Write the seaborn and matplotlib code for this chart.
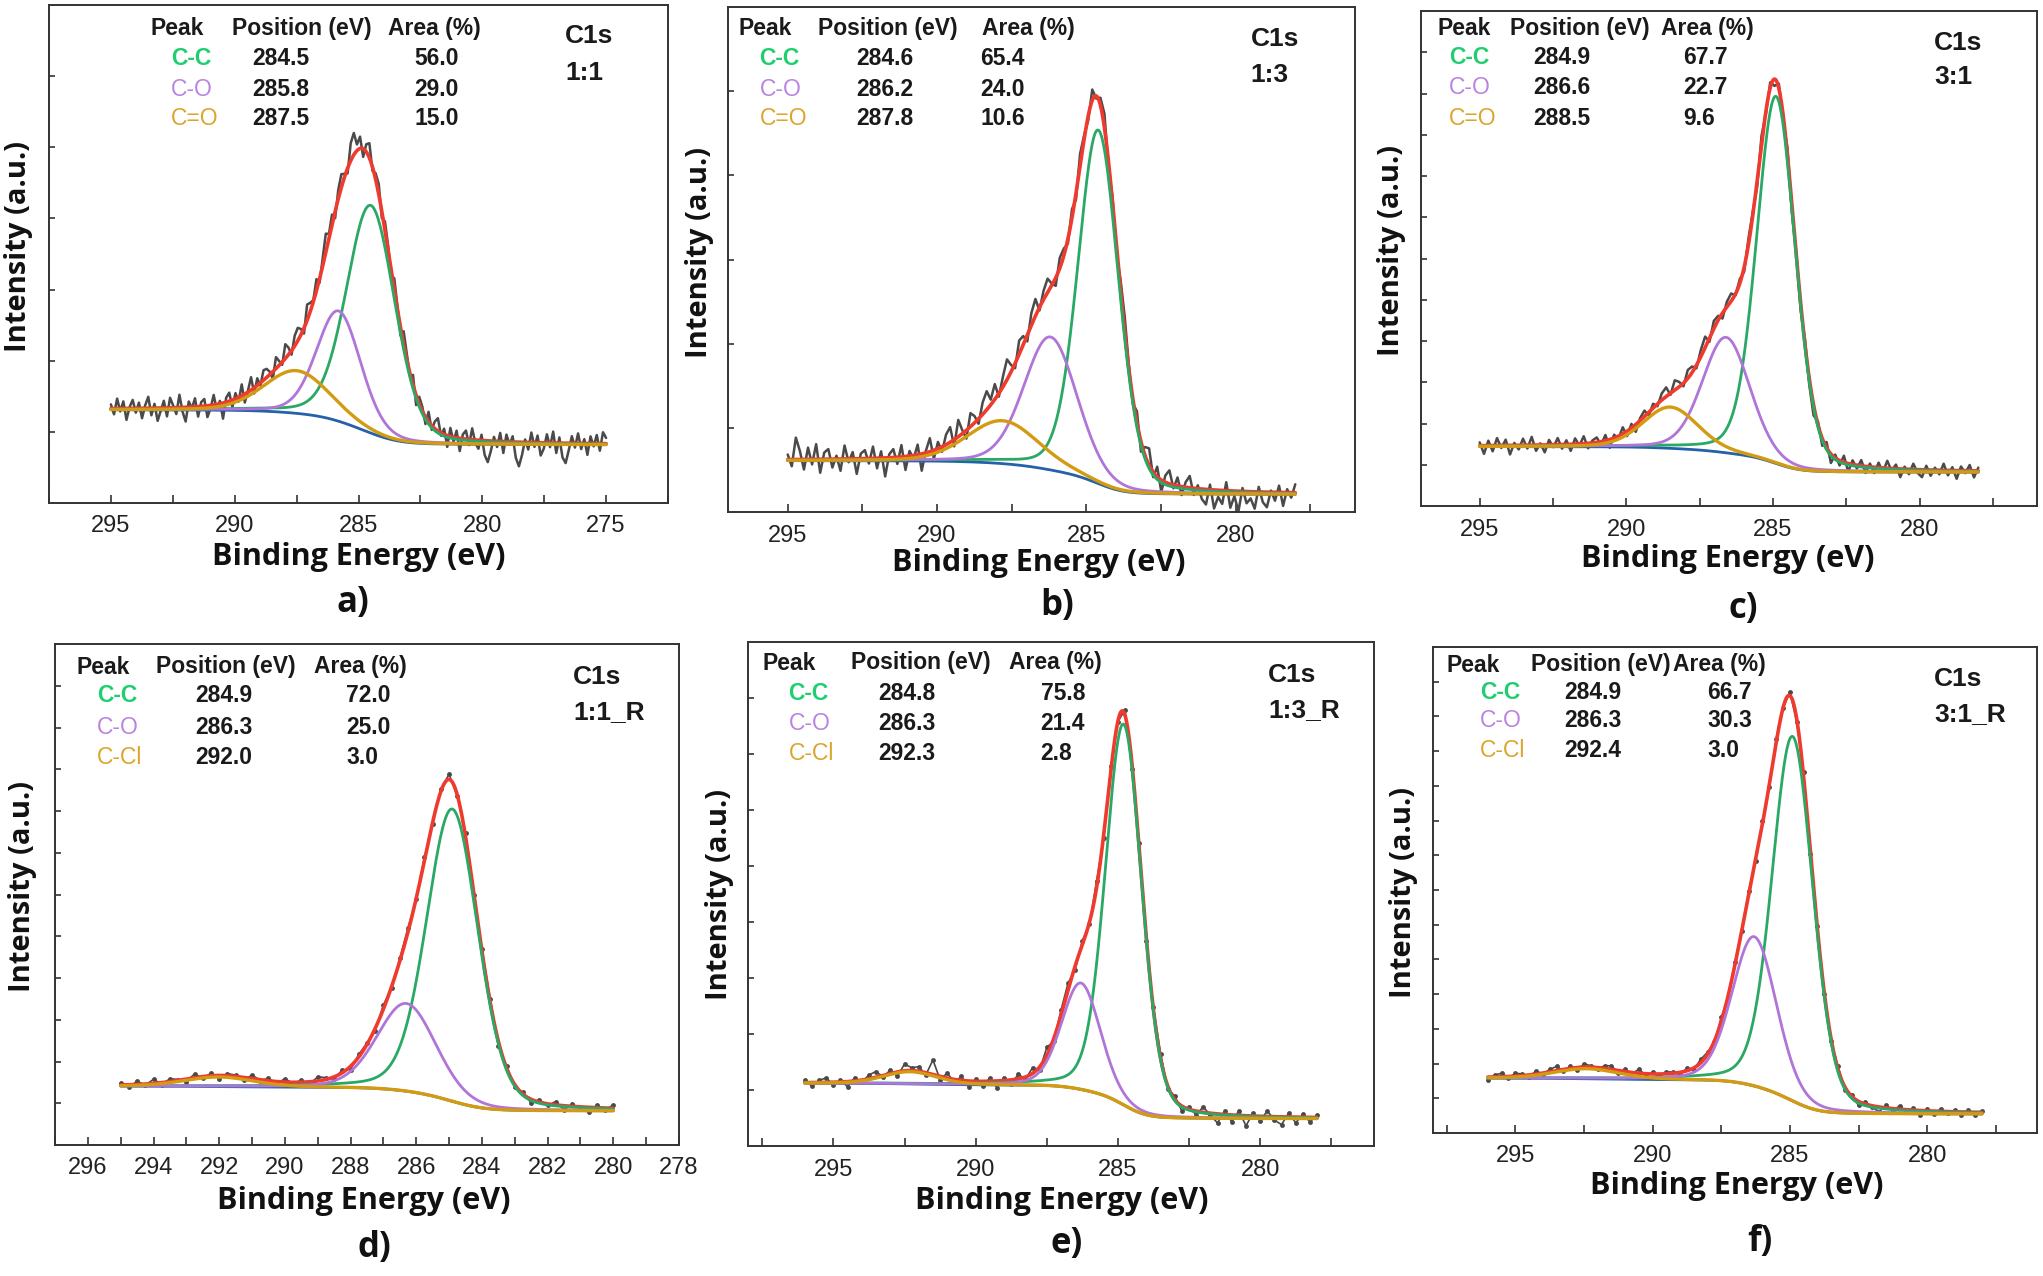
import numpy as np
import matplotlib
matplotlib.use('Agg')
import matplotlib.pyplot as plt
from matplotlib.ticker import MultipleLocator, FormatStrFormatter
import seaborn as sns

# C1s XPS fits, six samples

W, H = 2043, 1276

panel_tags = ['a)', 'b)', 'c)', 'd)', 'e)', 'f)']
sample_names = ['1:1', '1:3', '3:1', '1:1_R', '1:3_R', '3:1_R']
peak_names = [['C-C', 'C-O', 'C=O']] * 3 + [['C-C', 'C-O', 'C-Cl']] * 3
peak_pos = [[284.5, 285.8, 287.5], [284.6, 286.2, 287.8], [284.9, 286.6, 288.5],
            [284.9, 286.3, 292.0], [284.8, 286.3, 292.3], [284.9, 286.3, 292.4]]
peak_area = [[56.0, 29.0, 15.0], [65.4, 24.0, 10.6], [67.7, 22.7, 9.6],
             [72.0, 25.0, 3.0], [75.8, 21.4, 2.8], [66.7, 30.3, 3.0]]
# heights above background (a.u.) and FWHM (eV)
peak_height = [[3.2, 1.55, 0.6], [4.2, 1.58, 0.51], [8.9, 2.8, 1.0],
               [7.0, 2.1, 0.23], [6.8, 1.9, 0.22], [10.5, 4.3, 0.29]]
peak_fwhm = [[2.3, 2.1, 3.1], [1.6, 2.1, 2.8], [1.55, 1.9, 2.2],
             [1.85, 2.1, 2.5], [1.5, 1.6, 2.2], [1.75, 1.9, 2.8]]
bg_high = [1.31, 0.61, 1.44, 1.41, 1.12, 1.58]
bg_low = [0.82, 0.21, 0.82, 0.82, 0.49, 0.55]
scan_start = [295, 295, 295, 295, 296, 296]
scan_end = [275, 278, 278, 280, 278, 278]

# raw-minus-fit residuals, in 0.01 a.u., high BE -> low BE
resid_a = [6, -8, 14, -4, 10, -16, 2, 12, -6, 8,
           -14, 4, 16, -10, 6, -18, -4, 10, -12, 14,
           3, -9, 18, -6, -20, 8, -2, 12, -14, 6,
           10, -16, -4, 14, -8, 4, -22, 6, 12, -10,
           8, -6, 16, -12, 2, 18, -8, 10, -4, 14,
           12, 4, -10, 16, 6, -4, 20, 10, -6, 14,
           18, 8, -8, 22, 12, 2, 16, -6, 10, 26,
           6, 14, -10, 12, 18, 4, -8, 24, 30, 8,
           16, -12, 10, 20, -6, 8, 14, -10, 12, 6,
           -8, 16, 4, -12, 18, 8, -4, 14, -14, 10,
           6, -10, 14, -6, 10, 18, -4, 8, -16, 12,
           -6, 10, -18, 6, 12, -8, 16, -4, -12, 8,
           -20, -30, -14, 6, -8, 12, -16, 10, -4, 8,
           -22, -34, -18, 4, -10, 14, -6, 10, -18, -8,
           12, -6, 16, -14, 8, -20, -28, -10, 10, -6,
           14, -8, 6, -16, 10, -4, 12, -10, 16, 8]
resid_b = [6, -8, 26, 10, -12, 14, -6, 18, -16, 8,
           12, -10, 4, -14, 16, -4, 8, -18, 6, 10,
           -6, 14, -12, 8, -22, 4, 10, -8, 14, -16,
           6, -4, 12, -20, 2, 16, -10, 8, -6, 12,
           18, -8, 20, 4, -10, 16, 8, -6, 14, 22,
           6, 18, -4, 12, 24, 8, -6, 16, 10, -8,
           14, 20, -4, 10, 16, 2, -10, 12, 8, -6,
           10, -8, 14, 4, -6, 12, -4, 8, 16, -8,
           6, -10, 12, 18, 4, -6, 14, -12, 10, 20,
           -6, 12, -14, 8, 16, -4, 10, -10, 6, 14,
           -8, 4, -12, -18, 6, -22, -8, -16, 10, -20,
           -6, -24, 4, -14, -8, -20, 6, -12, -18, 2,
           -10, 8, -16, 4, -6, 10]
resid_c = [8, -20, 12, -14, 18, -6, 14, -22, 6, -10,
           16, -8, 20, -14, 4, -18, 12, -6, 16, -10,
           10, -16, 14, -4, 18, -12, 6, 12, -8, 14,
           -20, 8, -6, 16, -12, 10, -18, 6, 14, -8,
           10, -6, 16, 22, -4, 24, 12, -8, 20, 14,
           -8, 16, 26, -10, 18, 10, -14, 12, 18, -4,
           10, -12, 14, 8, -16, 20, -8, 12, -18, 10,
           -14, 16, -22, 6, -20, 12, -16, -26, 8, -18,
           14, -22, 8, -12, 16, -20, 10, -8, 14, -16,
           8, -14, 12, -10, 18, -6, 10, -20, 6, -12,
           14, -8, -18, 10, -14, 6, -10, 16, -12, 8,
           -20, 10, -6, 14, -16, 8]
resid_d = [4, -6, 8, -3, 10, -5, 7, 2, -6, 9,
           -4, 6, -8, 5, 3, -7, 9, -2, 6, -5,
           8, -3, 5, -6, 10, 4, -5, 7, -8, 6,
           3, -6, 9, -4, 5, 8, -3, 6, -7, 4,
           10, -5, 6, -8, 3, 7, -12, 5, -6, 4,
           -9, 6, -4, 8, -10, 5, -3, -12, 6, -5,
           8]
resid_e = [5, -7, 4, 8, -5, 3, -9, 6, -4, 7,
           10, -3, 6, -8, 12, 5, 8, -4, 26, -6,
           9, -5, 7, -10, 4, -8, 6, -12, 5, -7,
           8, -4, 10, -6, 14, -5, 9, 12, -8, 6,
           -5, 10, -8, 6, -4, 7, -10, 9, -6, 4,
           8, -5, 6, -9, 4, -7, 10, -4, -16, 6,
           -12, 8, -18, 5, -8, 10, -6, -14, 7, -10,
           5, -8, 4]
resid_f = [-8, 6, 10, -4, 8, 5, -6, 9, -3, 7,
           12, -4, 6, -7, 9, 4, -5, 8, 10, -6,
           7, -4, 12, -6, 5, -8, 6, 3, -7, 8,
           -5, 10, 6, -4, 12, -8, 7, -3, 9, -6,
           5, -10, 8, -4, 6, -12, 9, -7, 4, -8,
           -6, 8, -10, 5, -12, 6, -4, -14, 8, -6,
           10, -8, 5, -12, 6, -9, 8, -5, 4, -10,
           6, -7, 5]
residuals = [resid_a, resid_b, resid_c, resid_d, resid_e, resid_f]

# layout (pixels of the 2043x1276 canvas)
axes_px = [(49, 5, 668, 503), (728, 7, 1355, 512), (1421, 11, 2037, 506),
           (55, 644, 679, 1145), (748, 642, 1374, 1146), (1433, 647, 2037, 1133)]
xlims = [(297.5, 272.5), (297, 276), (297, 276), (297, 278), (298, 276), (298, 276)]
ytops = [7, 6, 12, 12, 9, 14]
xmajor = [5, 5, 5, 2, 5, 5]
xminor = [2.5, 2.5, 2.5, 1, 2.5, 2.5]
xlab_px = [(359, 557), (1039, 563), (1728, 559), (364, 1201), (1062, 1201), (1737, 1186)]
ylab_px = [(19, 247), (699, 253), (1391, 251), (23, 887), (719, 894), (1403, 892)]
tag_px = [(353, 603), (1057, 606), (1743, 609), (374, 1248), (1067, 1244), (1760, 1242)]
hdr_y = [28.5, 28.5, 28.5, 667, 663, 665]
row_y = [[58.5, 89, 118.6], [58.5, 89, 118.6], [57, 88, 118.6],
         [696, 727, 757], [694, 724, 754], [692.6, 720.6, 750.3]]
hdr_x = [(150, 232, 388), (739, 817.5, 982), (1437.5, 1510, 1660.6),
         (77, 156, 314), (762, 851, 1009), (1446, 1530.8, 1672.8)]
col_x = [(171, 252, 414), (759.5, 856, 980), (1449, 1533, 1683),
         (97, 195.5, 346), (788.5, 877.8, 1040.7), (1479.8, 1563.9, 1707)]
c1s_px = [(565, 36, 73), (1250.5, 39.5, 75), (1934, 43.5, 77),
          (573, 677, 712), (1268, 675, 710), (1934, 678.6, 714.5)]

curve_colors = ['#2aa865', '#b075d8', '#d29b12']
label_colors = ['#1fcf6f', '#b884e0', '#dba52c']
label_weights = ['bold', 'normal', 'normal']
red, blue, gray = '#ef3a2e', '#2561a8', '#4a4a4a'

sns.set_theme(style='ticks')
plt.rcParams['font.family'] = ['Liberation Sans', 'DejaVu Sans']
plt.rcParams['axes.edgecolor'] = '#333333'
plt.rcParams['axes.linewidth'] = 1.4
label_font = ['Open Sans', 'DejaVu Sans']


def pv(x, c, h, w, eta=0.2):
    d = (x - c) / w
    return h * ((1 - eta) * np.exp(-4 * np.log(2) * d ** 2) + eta / (1 + 4 * d ** 2))


def fit_model(x, i):
    comps = [pv(x, c, h, w) for c, h, w in zip(peak_pos[i], peak_height[i], peak_fwhm[i])]
    total = np.sum(comps, axis=0)
    # Shirley-type step: integral of peaks from the low-BE end
    cum = np.cumsum(total[::-1])[::-1]
    bg = bg_low[i] + (bg_high[i] - bg_low[i]) * cum / cum[0]
    return bg, comps


def fx(px):
    return px / W


def fy(py):
    return 1 - py / H


fig = plt.figure(figsize=(W / 100, H / 100), dpi=100)

for i in range(6):
    l, t, r, b = axes_px[i]
    ax = fig.add_axes([fx(l), fy(b), (r - l) / W, (b - t) / H])

    xf = np.linspace(scan_start[i], scan_end[i], 700)
    bg, comps = fit_model(xf, i)
    envelope = bg + np.sum(comps, axis=0)

    xr = np.linspace(scan_start[i], scan_end[i], len(residuals[i]))
    bg_r, comps_r = fit_model(xr, i)
    raw = bg_r + np.sum(comps_r, axis=0) + 0.01 * np.array(residuals[i])

    if i < 3:
        sns.lineplot(x=xr, y=raw, ax=ax, color=gray, linewidth=1.8, sort=False,
                     estimator=None, errorbar=None, zorder=1)
    else:
        sns.lineplot(x=xr, y=raw, ax=ax, color=gray, linewidth=1.2, sort=False,
                     estimator=None, errorbar=None, zorder=1, marker='o',
                     markersize=3.5, markeredgewidth=0)
    sns.lineplot(x=xf, y=envelope, ax=ax, color=red, linewidth=2.6, sort=False,
                 estimator=None, errorbar=None, zorder=2)
    sns.lineplot(x=xf, y=bg, ax=ax, color=blue, linewidth=2.0, sort=False,
                 estimator=None, errorbar=None, zorder=3)
    for k in [1, 0, 2]:
        sns.lineplot(x=xf, y=bg + comps[k], ax=ax, color=curve_colors[k],
                     linewidth=2.0 if k < 2 else 2.4, sort=False,
                     estimator=None, errorbar=None, zorder=4 + k)

    ax.set_xlim(*xlims[i])
    ax.set_ylim(0, ytops[i])
    ax.set_xlabel('')
    ax.set_ylabel('')
    ax.xaxis.set_major_locator(MultipleLocator(xmajor[i]))
    ax.xaxis.set_minor_locator(MultipleLocator(xminor[i]))
    ax.xaxis.set_major_formatter(FormatStrFormatter('%d'))
    ax.set_yticks(np.arange(1, ytops[i]))
    ax.set_yticklabels([])
    ax.tick_params(axis='x', which='both', direction='in', length=6, width=1.2,
                   color='#333333', labelsize=17, labelcolor='#222222', pad=9)
    ax.tick_params(axis='y', which='both', direction='in', length=4, width=1.2,
                   color='#333333')
    for s in ['top', 'right']:
        ax.spines[s].set_visible(True)

    # texts
    fig.text(fx(xlab_px[i][0]), fy(xlab_px[i][1]), 'Binding Energy (eV)',
             ha='center', va='center', fontsize=22, fontweight='bold',
             family=label_font, color='#111111')
    fig.text(fx(ylab_px[i][0]), fy(ylab_px[i][1]), 'Intensity (a.u.)',
             ha='center', va='center', rotation=90, fontsize=21, fontweight='bold',
             family=label_font, color='#111111')
    fig.text(fx(tag_px[i][0]), fy(tag_px[i][1]), panel_tags[i],
             ha='center', va='center', fontsize=25, fontweight='bold',
             family=label_font, color='#111111')

    for s, x0 in zip(['Peak', 'Position (eV)', 'Area (%)'], hdr_x[i]):
        fig.text(fx(x0), fy(hdr_y[i]), s, ha='left', va='center', fontsize=16.5,
                 fontweight='bold', color='#1a1a1a')
    for k in range(3):
        fig.text(fx(col_x[i][0]), fy(row_y[i][k]), peak_names[i][k], ha='left',
                 va='center', fontsize=16.5, fontweight=label_weights[k],
                 color=label_colors[k])
        fig.text(fx(col_x[i][1]), fy(row_y[i][k]), '%.1f' % peak_pos[i][k],
                 ha='left', va='center', fontsize=16.5, fontweight='bold',
                 color='#1a1a1a')
        fig.text(fx(col_x[i][2]), fy(row_y[i][k]), '%.1f' % peak_area[i][k],
                 ha='left', va='center', fontsize=16.5, fontweight='bold',
                 color='#1a1a1a')
    cx, cy1, cy2 = c1s_px[i]
    fig.text(fx(cx), fy(cy1), 'C1s', ha='left', va='center', fontsize=19,
             fontweight='bold', color='#1a1a1a')
    fig.text(fx(cx), fy(cy2), sample_names[i], ha='left', va='center', fontsize=19,
             fontweight='bold', color='#1a1a1a')

fig.savefig('out.png', dpi=100, facecolor='white')
